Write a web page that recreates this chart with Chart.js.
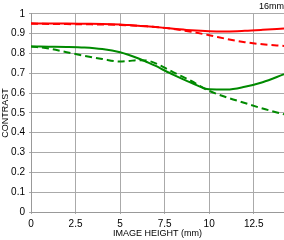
<!DOCTYPE html>
<html>
<head>
<meta charset="utf-8">
<script src="https://cdn.jsdelivr.net/npm/chart.js@4"></script>
<style>
  html, body { margin: 0; padding: 0; background: #fff; }
  #wrap { width: 284px; height: 240px; }
</style>
</head>
<body>
<div id="wrap"><canvas id="mtfCanvas" width="284" height="240"></canvas></div>
<script>
// MTF 16mm
var heights = [0, 1, 2, 3, 4, 5, 5.5, 6, 6.5, 7, 7.5, 8, 9, 10, 11, 12, 13, 14.2];
var redSolid = [0.952, 0.951, 0.951, 0.950, 0.949, 0.946, 0.943, 0.940, 0.937, 0.933, 0.929, 0.925, 0.917, 0.912, 0.911, 0.914, 0.919, 0.926];
var redDash = [0.950, 0.949, 0.948, 0.947, 0.946, 0.944, 0.942, 0.940, 0.937, 0.933, 0.929, 0.923, 0.909, 0.892, 0.873, 0.857, 0.846, 0.838];
var greenSolid = [0.835, 0.834, 0.833, 0.830, 0.822, 0.806, 0.792, 0.776, 0.757, 0.737, 0.714, 0.692, 0.652, 0.619, 0.618, 0.632, 0.655, 0.695];
var greenDash = [0.835, 0.825, 0.806, 0.788, 0.772, 0.759, 0.762, 0.766, 0.764, 0.750, 0.728, 0.705, 0.661, 0.611, 0.578, 0.550, 0.522, 0.493];
var xTicks = [0, 2.5, 5, 7.5, 10, 12.5];
var xMax = 14.2;

function pts(vals) {
  return heights.map(function(h, i) { return {x: h, y: vals[i]}; });
}
function line(vals, color, dash) {
  return {
    data: pts(vals),
    borderColor: color,
    borderWidth: 2,
    borderDash: dash ? [7, 4] : [],
    pointRadius: 0,
    fill: false,
    cubicInterpolationMode: "monotone"
  };
}

var font = {family: "Arial, 'Liberation Sans', sans-serif", size: 10};
var ctx = document.getElementById("mtfCanvas").getContext("2d");
new Chart(ctx, {
  type: "line",
  data: {
    datasets: [
      line(redSolid, "#ff0000", false),
      line(redDash, "#ff0000", true),
      line(greenSolid, "#008a00", false),
      line(greenDash, "#008a00", true)
    ]
  },
  options: {
    responsive: false,
    animation: false,
    layout: {padding: 0},
    plugins: {
      legend: {display: false},
      tooltip: {enabled: false},
      title: {
        display: true, text: "16mm", align: "end", color: "#000",
        font: {family: font.family, size: 9, weight: "normal"},
        padding: {top: 1, bottom: 2}
      }
    },
    scales: {
      x: {
        type: "linear", min: 0, max: xMax,
        afterBuildTicks: function(s) { s.ticks = xTicks.map(function(v) { return {value: v}; }); },
        afterFit: function(s) { s.height = 28; },
        grid: {color: "#aaa", tickLength: 2},
        border: {color: "#999"},
        ticks: {color: "#000", font: font, padding: 4, maxRotation: 0},
        title: {display: true, text: "IMAGE HEIGHT (mm)", color: "#000", font: {family: font.family, size: 9}, padding: {top: 0, bottom: 1}}
      },
      y: {
        min: 0, max: 1,
        ticks: {
          stepSize: 0.1, color: "#000", font: font, padding: 4,
          callback: function(v) { return String(Math.round(v * 10) / 10); }
        },
        afterFit: function(s) { s.width = 31; },
        grid: {color: "#aaa", tickLength: 2},
        border: {color: "#999"},
        title: {display: true, text: "CONTRAST", color: "#000", font: {family: font.family, size: 9}, padding: {top: 0, bottom: 0}}
      }
    }
  }
});
</script>
</body>
</html>
